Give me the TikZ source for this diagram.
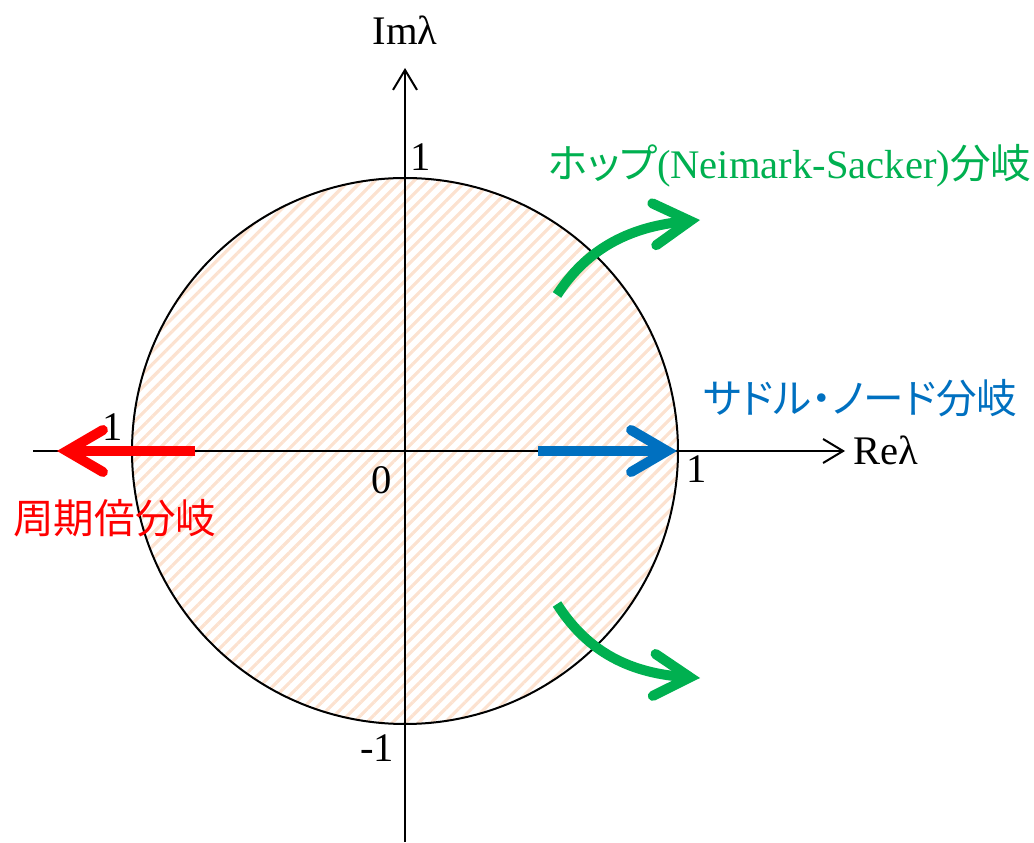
\documentclass[tikz,border=0pt]{standalone}
\usepackage{fontspec}
\setmainfont{Liberation Serif}
\newfontfamily\jp[RawFeature=+palt]{Noto Sans CJK JP}
\usetikzlibrary{arrows.meta,patterns.meta}
\definecolor{hatch}{RGB}{252,226,208}
\definecolor{pdred}{RGB}{255,0,0}
\definecolor{snblue}{RGB}{0,112,192}
\definecolor{hopfgreen}{RGB}{0,176,80}
\tikzset{
  axis/.style={line width=1pt,-{Straight Barb[length=10pt,width=12pt]}},
  bifarrow/.style={line width=5pt,-{Straight Barb[length=18pt,width=21pt,line cap=round]}},
  lbl/.style={font=\fontsize{20.3}{23}\selectfont,inner sep=0pt},
  jplbl/.style={font=\fontsize{20.3}{23}\selectfont,inner sep=0pt,anchor=west},
}
\begin{document}
\begin{tikzpicture}[x=0.5pt,y=0.5pt]
\useasboundingbox (0,0) rectangle (1034,842);
% unit circle
\coordinate (O) at (405,391);
\draw[line width=1pt,pattern={Lines[angle=45,distance=4.6pt,line width=1.6pt]},pattern color=hatch] (O) circle (273);

% axes
\coordinate (xs) at (33,391);
\coordinate (xe) at (845,391);
\coordinate (ys) at (405,0);
\coordinate (ye) at (405,774);
\draw[axis] (xs) -- (xe);
\draw[axis] (ys) -- (ye);
\node[lbl,anchor=base] (im) at (405,797) {Imλ};
\node[lbl,anchor=base west] (re) at (853,377) {Reλ};

% ticks
\node[lbl] (one top) at (421,685) {1};
\node[lbl] (one left) at (113,415) {1};
\node[lbl] (one right) at (697,373) {1};
\node[lbl] (zero) at (382,362) {0};
\node[lbl] (minus one) at (377,94) {-1};

% period doubling (left)
\coordinate (pd start) at (195,391);
\coordinate (pd end) at (57,391);
\draw[bifarrow,pdred] (pd start) -- (pd end);
\node[jplbl,pdred] (pd text) at (13,324) {\jp 周期倍分岐};

% saddle-node (right)
\coordinate (sn start) at (538,391);
\coordinate (sn end) at (677,391);
\draw[bifarrow,snblue] (sn start) -- (sn end);
\node[jplbl,snblue] (sn text) at (703,444) {\jp サドル・ノード分岐};

% Neimark-Sacker (pair)
\coordinate (ns up start) at (557,547);
\coordinate (ns up end) at (700,622);
\draw[bifarrow,hopfgreen] (ns up start) .. controls (585,590) and (625,615) .. (ns up end);
\coordinate (ns low start) at (557,238);
\coordinate (ns low end) at (700,164);
\draw[bifarrow,hopfgreen] (ns low start) .. controls (585,194) and (625,169) .. (ns low end);
\node[jplbl,hopfgreen] (ns text) at (548,676) {{\jp ホップ}(Neimark-Sacker){\jp 分岐}};
\end{tikzpicture}
\end{document}
